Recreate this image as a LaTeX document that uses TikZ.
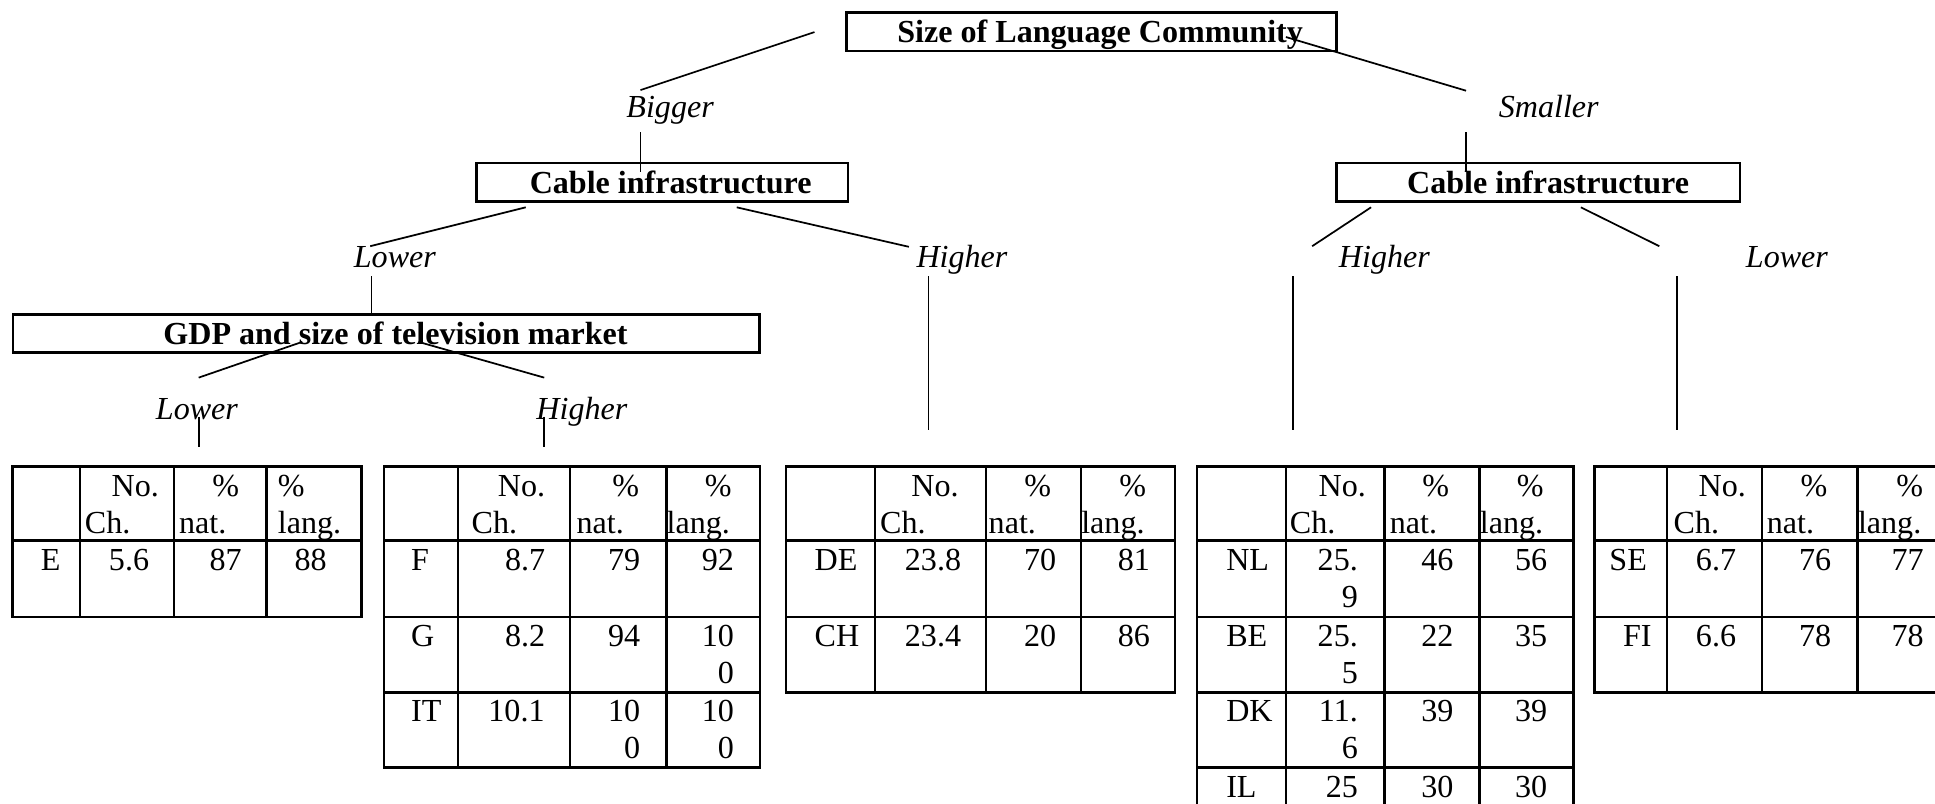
\documentclass[tikz,border=0pt]{standalone}
\usepackage{fontspec}
\setmainfont{Liberation Serif}
\begin{document}
\begin{tikzpicture}[x=1pt,y=-1pt,
  every node/.style={font=\fontsize{26}{30}\selectfont},
  box/.style={draw, line width=2pt, inner sep=0pt, text height=19pt, text depth=1pt, font=\fontsize{26}{30}\selectfont\bfseries},
  lbl/.style={anchor=base, inner sep=0pt, font=\fontsize{26}{30}\selectfont\itshape},
  conn/.style={line width=1.4pt},
  grid/.style={line width=2pt},
  cr/.style={anchor=base east, inner sep=0pt},
  cl/.style={anchor=base west, inner sep=0pt}]
\useasboundingbox (0,0) rectangle (1568,651);
\clip (0,0) rectangle (1568,651);

% ---------- boxes ----------
\node[box, minimum width=397pt, minimum height=31pt] (top) at (884.5,25.7) {\hspace*{14pt}Size of Language Community};
\node[box, minimum width=301pt, minimum height=31pt] (cabL) at (536.5,147.7) {\hspace*{14pt}Cable infrastructure};
\node[box, minimum width=327pt, minimum height=31pt] (cabR) at (1246.5,147.7) {\hspace*{16pt}Cable infrastructure};
\node[box, minimum width=605pt, minimum height=31pt] (gdp) at (313,270.2) {\hspace*{15pt}GDP and size of television market};

% ---------- labels ----------
\node[lbl] (bigger) at (543,95) {Bigger};
\node[lbl] (smaller) at (1255,95) {Smaller};
\node[lbl] (lowA) at (320,217) {Lower};
\node[lbl] (higA) at (779.5,217) {Higher};
\node[lbl] (higB) at (1121.8,217) {Higher};
\node[lbl] (lowB) at (1448,217) {Lower};
\node[lbl] (lowC) at (159.6,340) {Lower};
\node[lbl] (higC) at (471.5,340) {Higher};

% ---------- connectors ----------
\coordinate (c1a) at (660,26);    \coordinate (c1b) at (519,73);
\coordinate (c2a) at (1042,30);   \coordinate (c2b) at (1188,73.5);
\coordinate (c3a) at (519,107);   \coordinate (c3b) at (519,139);
\coordinate (c4a) at (1188,107);  \coordinate (c4b) at (1188,139);
\coordinate (c5a) at (426,168);   \coordinate (c5b) at (300,199.5);
\coordinate (c6a) at (597,168);   \coordinate (c6b) at (736.5,200);
\coordinate (c7a) at (1111,168);  \coordinate (c7b) at (1063.3,199.5);
\coordinate (c8a) at (1281,168);  \coordinate (c8b) at (1344.6,199.5);
\coordinate (c9a) at (301,224);   \coordinate (c9b) at (301,255);
\coordinate (c10a) at (752.4,224); \coordinate (c10b) at (752.4,348.5);
\coordinate (c11a) at (1048,224);  \coordinate (c11b) at (1048,348.5);
\coordinate (c12a) at (1359.2,224); \coordinate (c12b) at (1359.2,348.5);
\coordinate (c13a) at (245,277);  \coordinate (c13b) at (161,306);
\coordinate (c14a) at (339,277);  \coordinate (c14b) at (441,306);
\coordinate (c15a) at (161,337.6); \coordinate (c15b) at (161,362);
\coordinate (c16a) at (441,337.6); \coordinate (c16b) at (441,362);
\foreach \i in {1,...,16} {\draw[conn] (c\i a) -- (c\i b);}

% ---------- table grids ----------
% T1
\draw[grid] (10,378) rectangle (293,500);
\foreach \x in {65,141,216} \draw[grid] (\x,378) -- (\x,500);
\draw[grid] (10,438) -- (293,438);
% T2
\draw[grid] (311,378) rectangle (616,622);
\foreach \x in {371,462,540} \draw[grid] (\x,378) -- (\x,622);
\foreach \y in {438,500,561} \draw[grid] (311,\y) -- (616,\y);
% T3
\draw[grid] (637,378) rectangle (952,561);
\foreach \x in {709,799,876} \draw[grid] (\x,378) -- (\x,561);
\foreach \y in {438,500} \draw[grid] (637,\y) -- (952,\y);
% T4
\draw[grid] (970,378) rectangle (1275,683);
\foreach \x in {1042,1122,1199} \draw[grid] (\x,378) -- (\x,683);
\foreach \y in {438,500,561,622} \draw[grid] (970,\y) -- (1275,\y);
% T5
\draw[grid] (1292,378) rectangle (1580,561);
\foreach \x in {1351,1428,1505} \draw[grid] (\x,378) -- (\x,561);
\foreach \y in {438,500} \draw[grid] (1292,\y) -- (1580,\y);

% ---------- T1 text ----------
\node[cr] (t1hA) at (129,402) {No.};
\node[cl] (t1hB) at (68.6,432) {Ch.};
\node[cr] (t1hC) at (194,402) {\%};
\node[cl] (t1hD) at (145,432) {nat.};
\node[cl] (t1hE) at (225,402) {\%};
\node[cl] (t1hF) at (225,432) {lang.};
\node[cl] (t1r1a) at (33,462) {E};
\node[cr] (t1r1b) at (121,462) {5.6};
\node[cr] (t1r1c) at (196,462) {87};
\node[cr] (t1r1d) at (265,462) {88};

% ---------- T2 text ----------
\node[cr] (t2hA) at (442,402) {No.};
\node[cl] (t2hB) at (382,432) {Ch.};
\node[cr] (t2hC) at (518,402) {\%};
\node[cl] (t2hD) at (467,432) {nat.};
\node[cr] (t2hE) at (593,402) {\%};
\node[cl] (t2hF) at (540,432) {lang.};
\node[cl] (t2r1a) at (333,462) {F};
\node[cr] (t2r1b) at (442,462) {8.7};
\node[cr] (t2r1c) at (519,462) {79};
\node[cr] (t2r1d) at (595,462) {92};
\node[cl] (t2r2a) at (333,524) {G};
\node[cr] (t2r2b) at (442,524) {8.2};
\node[cr] (t2r2c) at (519,524) {94};
\node[cr] (t2r2d) at (595,524) {10};
\node[cr] (t2r2e) at (595,554) {0};
\node[cl] (t2r3a) at (333,585) {IT};
\node[cr] (t2r3b) at (441.5,585) {10.1};
\node[cr] (t2r3c) at (519,585) {10};
\node[cr] (t2r3d) at (519,615) {0};
\node[cr] (t2r3e) at (595,585) {10};
\node[cr] (t2r3f) at (595,615) {0};

% ---------- T3 text ----------
\node[cr] (t3hA) at (777,402) {No.};
\node[cl] (t3hB) at (713,432) {Ch.};
\node[cr] (t3hC) at (852,402) {\%};
\node[cl] (t3hD) at (801,432) {nat.};
\node[cr] (t3hE) at (929,402) {\%};
\node[cl] (t3hF) at (876,432) {lang.};
\node[cl] (t3r1a) at (660,462) {DE};
\node[cr] (t3r1b) at (779,462) {23.8};
\node[cr] (t3r1c) at (856,462) {70};
\node[cr] (t3r1d) at (932,462) {81};
\node[cl] (t3r2a) at (660,524) {CH};
\node[cr] (t3r2b) at (779,524) {23.4};
\node[cr] (t3r2c) at (856,524) {20};
\node[cr] (t3r2d) at (932,524) {86};

% ---------- T4 text ----------
\node[cr] (t4hA) at (1107,402) {No.};
\node[cl] (t4hB) at (1045,432) {Ch.};
\node[cr] (t4hC) at (1174.5,402) {\%};
\node[cl] (t4hD) at (1126,432) {nat.};
\node[cr] (t4hE) at (1251,402) {\%};
\node[cl] (t4hF) at (1199,432) {lang.};
\node[cl] (t4r1a) at (993.5,462) {NL};
\node[cr] (t4r1b) at (1100.5,462) {25.};
\node[cr] (t4r1e) at (1100.5,492) {9};
\node[cr] (t4r1c) at (1178,462) {46};
\node[cr] (t4r1d) at (1254,462) {56};
\node[cl] (t4r2a) at (993.5,524) {BE};
\node[cr] (t4r2b) at (1100.5,524) {25.};
\node[cr] (t4r2e) at (1100.5,554) {5};
\node[cr] (t4r2c) at (1178,524) {22};
\node[cr] (t4r2d) at (1254,524) {35};
\node[cl] (t4r3a) at (993.5,585) {DK};
\node[cr] (t4r3b) at (1100.5,585) {11.};
\node[cr] (t4r3e) at (1100.5,615) {6};
\node[cr] (t4r3c) at (1178,585) {39};
\node[cr] (t4r3d) at (1254,585) {39};
\node[cl] (t4r4a) at (993.5,646) {IL};
\node[cr] (t4r4b) at (1100.5,646) {25};
\node[cr] (t4r4c) at (1178,646) {30};
\node[cr] (t4r4d) at (1254,646) {30};

% ---------- T5 text ----------
\node[cr] (t5hA) at (1415,402) {No.};
\node[cl] (t5hB) at (1356,432) {Ch.};
\node[cr] (t5hC) at (1481,402) {\%};
\node[cl] (t5hD) at (1431.6,432) {nat.};
\node[cr] (t5hE) at (1558.5,402) {\%};
\node[cl] (t5hF) at (1505.4,432) {lang.};
\node[cl] (t5r1a) at (1304,462) {SE};
\node[cr] (t5r1b) at (1407,462) {6.7};
\node[cr] (t5r1c) at (1484,462) {76};
\node[cr] (t5r1d) at (1559,462) {77};
\node[cl] (t5r2a) at (1315,524) {FI};
\node[cr] (t5r2b) at (1407,524) {6.6};
\node[cr] (t5r2c) at (1484,524) {78};
\node[cr] (t5r2d) at (1559,524) {78};
\end{tikzpicture}
\end{document}
